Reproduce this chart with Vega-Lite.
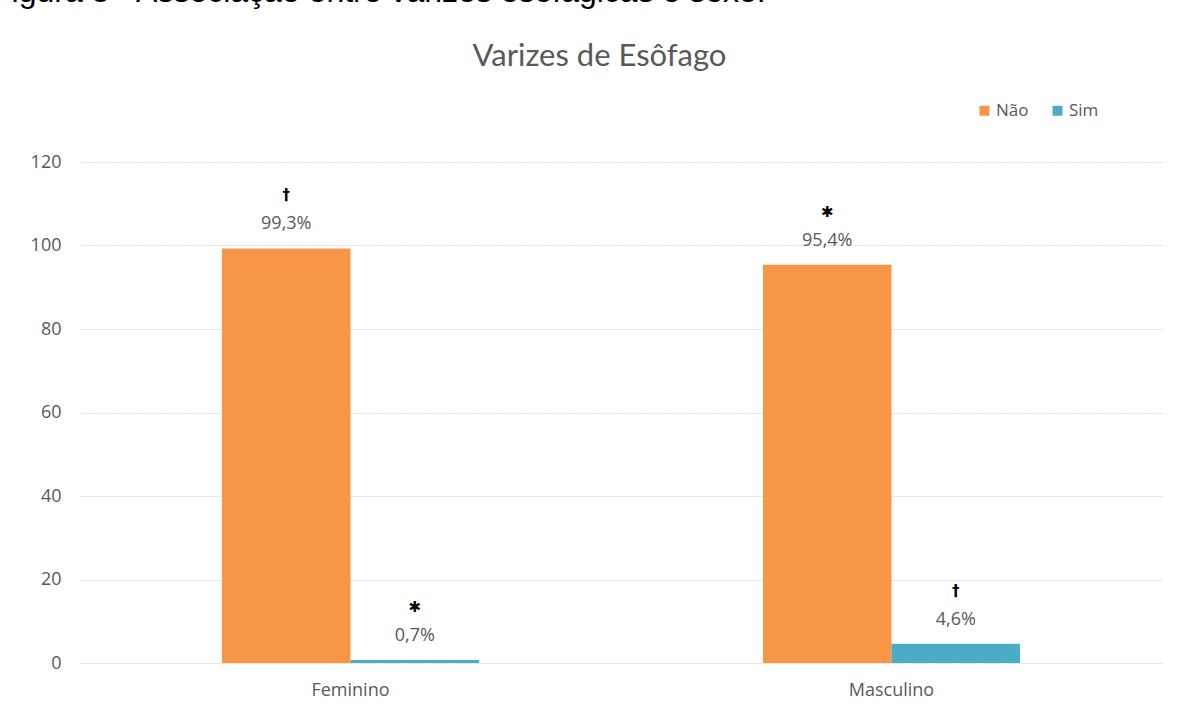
{
  "$schema": "https://vega.github.io/schema/vega-lite/v6.json",
  "width": 1082,
  "height": 501,
  "autosize": {"type": "none"},
  "padding": {"left": 80, "top": 162, "right": 15, "bottom": 49},
  "background": "white",
  "title": {
    "text": "Figura 8 - Associação entre varizes esofágicas e sexo.",
    "anchor": "start",
    "frame": "group",
    "dx": -88,
    "baseline": "alphabetic",
    "offset": 6,
    "font": "Liberation Sans",
    "fontSize": 32,
    "fontWeight": "normal",
    "color": "#000000"
  },
  "data": {
    "values": [
      {"sexo": "Feminino", "varizes": "Não", "pct": 99.3, "rotulo": "99,3%", "marca": "†"},
      {"sexo": "Feminino", "varizes": "Sim", "pct": 0.7, "rotulo": "0,7%", "marca": "✱"},
      {"sexo": "Masculino", "varizes": "Não", "pct": 95.4, "rotulo": "95,4%", "marca": "✱"},
      {"sexo": "Masculino", "varizes": "Sim", "pct": 4.6, "rotulo": "4,6%", "marca": "†"}
    ]
  },
  "encoding": {
    "x": {
      "field": "sexo",
      "type": "nominal",
      "scale": {"paddingInner": 0.525, "paddingOuter": 0.2625},
      "axis": {
        "title": null,
        "domain": false,
        "ticks": false,
        "labelAngle": 0,
        "labelPadding": 18,
        "labelFont": "Open Sans",
        "labelFontSize": 18,
        "labelColor": "#595959"
      }
    },
    "xOffset": {"field": "varizes", "type": "nominal", "scale": {"paddingInner": 0, "paddingOuter": 0}},
    "y": {
      "field": "pct",
      "type": "quantitative",
      "scale": {"domain": [0, 120]},
      "axis": {
        "values": [0, 20, 40, 60, 80, 100, 120],
        "title": "Varizes de Esôfago",
        "titleAngle": 0,
        "titleAlign": "center",
        "titleBaseline": "alphabetic",
        "titleX": 519,
        "titleY": -97,
        "titleFont": "Lato",
        "titleFontSize": 31,
        "titleFontWeight": "normal",
        "titleColor": "#595959",
        "domain": false,
        "ticks": false,
        "labelPadding": 19,
        "labelFont": "Open Sans",
        "labelFontSize": 18,
        "labelColor": "#595959",
        "gridColor": "#d9d9d9",
        "gridDash": [2, 1]
      }
    }
  },
  "layer": [
    {
      "mark": {"type": "bar"},
      "encoding": {
        "color": {
          "field": "varizes",
          "type": "nominal",
          "scale": {"domain": ["Não", "Sim"], "range": ["#F79646", "#4BACC6"]},
          "legend": {
            "title": null,
            "orient": "none",
            "direction": "horizontal",
            "legendX": 896,
            "legendY": -60,
            "symbolType": "square",
            "symbolSize": 100,
            "symbolStrokeWidth": 0,
            "labelFont": "Open Sans",
            "labelFontSize": 17,
            "labelColor": "#595959",
            "labelOffset": 3,
            "columnPadding": 20
          }
        }
      }
    },
    {
      "mark": {"type": "text", "dy": -24, "baseline": "middle", "font": "Open Sans", "fontSize": 18, "color": "#595959"},
      "encoding": {"text": {"field": "rotulo"}}
    },
    {
      "mark": {"type": "text", "dy": -53, "baseline": "middle", "font": "DejaVu Sans", "fontSize": 15, "fontWeight": "bold", "color": "#000000"},
      "encoding": {"text": {"field": "marca"}}
    }
  ],
  "config": {"view": {"stroke": null}}
}
